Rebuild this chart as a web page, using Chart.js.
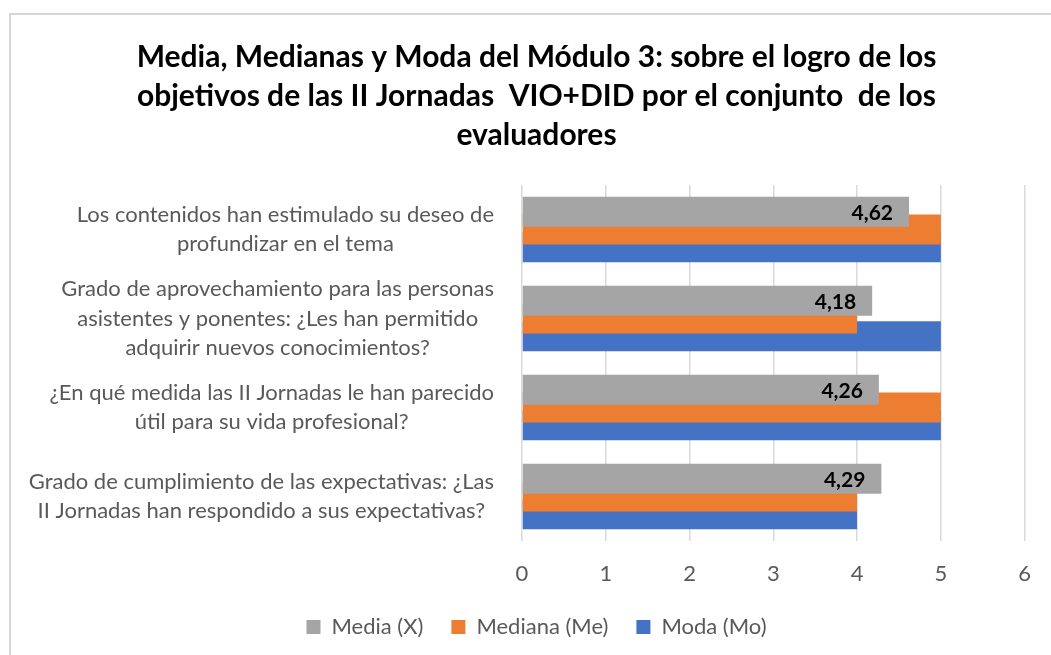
<!DOCTYPE html>
<html>
<head>
<meta charset="utf-8">
<script src="https://cdn.jsdelivr.net/npm/chart.js@4"></script>
<style>
  body { margin: 0; background: #fff; overflow: hidden; }
  #frame { position: absolute; left: 9px; top: 13px; width: 1100px; height: 700px;
           border-left: 2px solid #d6d6d6; border-top: 2px solid #d6d6d6; }
  #wrap { position: absolute; left: 0; top: 0; width: 1051px; height: 655px; }
</style>
</head>
<body>
<div id="frame"></div>
<div id="wrap"><canvas id="myChart"></canvas></div>
<script>
// categories (one array per label, one entry per line)
let categories = [
    ['Los contenidos han estimulado su deseo de', 'profundizar en el tema'],
    ['Grado de aprovechamiento para las personas', 'asistentes y ponentes: ¿Les han permitido', 'adquirir nuevos conocimientos?'],
    ['¿En qué medida las II Jornadas le han parecido', 'útil para su vida profesional?'],
    ['Grado de cumplimiento de las expectativas: ¿Las', 'II Jornadas han respondido a sus expectativas?']
]
// series
let mediaValues = [4.62, 4.18, 4.26, 4.29]
let medianaValues = [5, 4, 5, 4]
let modaValues = [5, 5, 5, 4]
let seriesNames = ['Media (X)', 'Mediana (Me)', 'Moda (Mo)']
// x axis ticks
let xMin = 0
let xMax = 6
let xStep = 1

let titleLines = [
    'Media, Medianas y Moda del Módulo 3: sobre el logro de los',
    'objetivos de las II Jornadas  VIO+DID por el conjunto  de los',
    'evaluadores'
]

const FONT = 'Lato'
const GREY_TEXT = '#595959'

//draws the y labels: each block right aligned, lines centered inside the block
const yLabelPlugin = {
    id: 'yLabels',
    afterDraw(chart) {
        const scale = chart.scales.y
        const c = chart.ctx
        c.save()
        c.font = '22px ' + FONT
        c.fillStyle = GREY_TEXT
        c.textAlign = 'center'
        c.textBaseline = 'middle'
        const lineH = 29.5
        const rightEdge = chart.chartArea.left - 28
        for (let i = 0; i < categories.length; i++) {
            let lines = categories[i]
            let w = 0
            for (let j = 0; j < lines.length; j++) {
                w = Math.max(w, c.measureText(lines[j]).width)
            }
            let cx = rightEdge - w / 2
            let y0 = scale.getPixelForTick(i) - (lines.length - 1) * lineH / 2
            for (let j = 0; j < lines.length; j++) {
                c.fillText(lines[j], cx, y0 + j * lineH)
            }
        }
        c.restore()
    }
}

//value labels on the Media bars (inside end)
const valueLabelPlugin = {
    id: 'valueLabels',
    afterDatasetsDraw(chart) {
        const meta = chart.getDatasetMeta(0)
        const c = chart.ctx
        c.save()
        c.font = 'bold 21px ' + FONT
        c.fillStyle = '#000'
        c.textAlign = 'right'
        c.textBaseline = 'middle'
        for (let i = 0; i < meta.data.length; i++) {
            let bar = meta.data[i]
            let txt = mediaValues[i].toFixed(2).replace('.', ',')
            c.fillText(txt, bar.x - 16, bar.y + 1)
        }
        c.restore()
    }
}

var ctx = document.getElementById('myChart').getContext('2d');
var mychart = new Chart(ctx, {
    type: 'bar',
    data: {
        labels: categories,
        datasets: [{
            label: seriesNames[0],
            backgroundColor: '#A5A5A5',
            data: mediaValues
        }, {
            label: seriesNames[1],
            backgroundColor: '#ED7D31',
            data: medianaValues
        }, {
            label: seriesNames[2],
            backgroundColor: '#4472C4',
            data: modaValues
        }]
    },
    options: {
        indexAxis: 'y',
        responsive: true,
        maintainAspectRatio: false,
        animation: false,
        events: [],
        // bars overlap like in the spreadsheet chart
        categoryPercentage: 0.597,
        barPercentage: 1.69,
        layout: {
            padding: { top: 20, left: 43, right: 21, bottom: 7 }
        },
        scales: {
            x: {
                min: xMin,
                max: xMax,
                ticks: {
                    stepSize: xStep,
                    color: GREY_TEXT,
                    font: { family: FONT, size: 22 },
                    padding: 20
                },
                grid: { color: '#d9d9d9', lineWidth: 1.5, drawTicks: false },
                border: { display: false },
                afterFit(scale) { scale.height = 47 }
            },
            y: {
                ticks: { color: 'rgba(0,0,0,0)', font: { family: FONT, size: 18 } },
                grid: { display: false, drawTicks: false },
                border: { display: false },
                afterFit(scale) { scale.width = 479 }
            }
        },
        plugins: {
            title: {
                display: true,
                text: titleLines,
                color: '#000',
                font: { family: FONT, size: 30, weight: 'bold', lineHeight: 1.3 },
                padding: { top: 18, bottom: 30 }
            },
            legend: {
                position: 'bottom',
                labels: {
                    color: GREY_TEXT,
                    font: { family: FONT, size: 22 },
                    boxWidth: 14,
                    boxHeight: 14,
                    padding: 28
                }
            },
            tooltip: { enabled: false }
        }
    },
    plugins: [yLabelPlugin, valueLabelPlugin]
});
</script>
</body>
</html>
